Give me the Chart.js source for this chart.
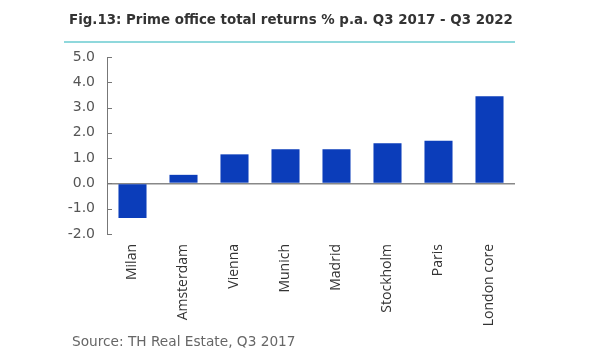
<!DOCTYPE html>
<html>
<head>
<meta charset="utf-8">
<script src="https://cdn.jsdelivr.net/npm/chart.js@4/dist/chart.umd.min.js"></script>
<style>
  html, body { margin:0; padding:0; background:#fff; }
  #wrap { position:relative; width:600px; height:360px; overflow:hidden; }
  #title { position:absolute; left:69px; top:12px; font-family:"DejaVu Sans",sans-serif; font-weight:bold; font-size:13.4px; color:#333; white-space:nowrap; }
  #rule { position:absolute; left:64px; top:41px; width:451px; height:2px; background:#8fd8dc; }
  #source { position:absolute; left:72px; top:333px; font-family:"DejaVu Sans",sans-serif; font-size:13.7px; color:#666; white-space:nowrap; }
  canvas { position:absolute; left:0; top:0; }
</style>
</head>
<body>
<div id="wrap">
  <canvas id="c" width="600" height="360"></canvas>
  <div id="title">Fig.13: Prime office total returns % p.a. Q3 2017 - Q3 2022</div>
  <div id="rule"></div>
  <div id="source">Source: TH Real Estate, Q3 2017</div>
</div>
<script>
  // ── 데이터 ─────────────────────────────────────────
  const CITIES  = ['Milan','Amsterdam','Vienna','Munich','Madrid','Stockholm','Paris','London core'];
  const RETURNS = [-1.37, 0.34, 1.15, 1.35, 1.35, 1.59, 1.69, 3.45];
  const Y_TICKS = [-2, -1, 0, 1, 2, 3, 4, 5];

  const BAR_COLOR  = '#0B3DBA';
  const AXIS_COLOR = '#777';

  // ── 안쪽 눈금 (축에서 오른쪽으로) ───────────────────
  const innerTicks = {
    id: 'innerTicks',
    afterDraw(chart) {
      const y = chart.scales.y;
      const ctx = chart.ctx;
      const x0 = chart.chartArea.left;
      ctx.save();
      ctx.strokeStyle = AXIS_COLOR;
      ctx.lineWidth = 1;
      Y_TICKS.forEach(v => {
        const py = Math.round(y.getPixelForValue(v)) + 0.5;
        ctx.beginPath();
        ctx.moveTo(x0, py);
        ctx.lineTo(x0 + 5, py);
        ctx.stroke();
      });
      ctx.restore();
    }
  };

  new Chart(document.getElementById('c'), {
    type: 'bar',
    data: {
      labels: CITIES,
      datasets: [{
        data: RETURNS,
        backgroundColor: BAR_COLOR,
        borderWidth: 0,
        barPercentage: 0.55,
        categoryPercentage: 1.0,
      }],
    },
    options: {
      responsive: false,
      animation: false,
      layout: { padding: { top: 57, right: 85, bottom: 0, left: 0 } },
      plugins: { legend: { display: false }, tooltip: { enabled: false } },
      scales: {
        x: {
          grid: { display: false, drawTicks: false },
          border: { display: false },
          ticks: {
            minRotation: 90, maxRotation: 90, padding: 10,
            autoSkip: false,
            font: { family: '"Open Sans", sans-serif', size: 14 },
            color: '#333',
          },
          afterFit: s => { s.height = 126; },
        },
        y: {
          min: -2, max: 5,
          afterBuildTicks: s => { s.ticks = Y_TICKS.map(v => ({ value: v })); },
          grid: {
            drawTicks: false,
            color: c => (c.tick && c.tick.value === 0) ? '#888' : 'rgba(0,0,0,0)',
            lineWidth: 1.5,
          },
          border: { display: true, color: AXIS_COLOR, width: 1 },
          ticks: {
            padding: 12,
            font: { family: '"DejaVu Sans", sans-serif', size: 14 },
            color: '#555',
            callback: v => Number(v).toFixed(1),
          },
          afterFit: s => { s.width = 107; },
        },
      },
    },
    plugins: [innerTicks],
  });
</script>
</body>
</html>
